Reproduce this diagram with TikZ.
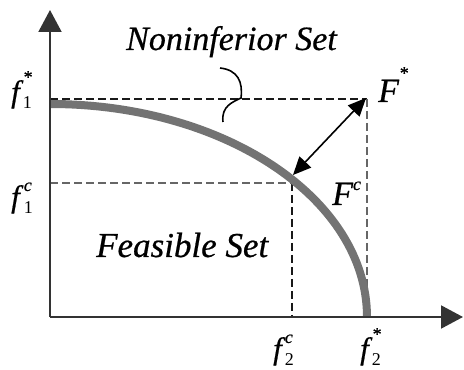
\documentclass[tikz,border=0pt]{standalone}
\usepackage{fontspec}
\setmainfont{Liberation Serif}[ItalicFeatures={FakeBold=0.6}]
\usetikzlibrary{arrows.meta}
\newcommand{\bigfont}{\fontsize{34}{36}\selectfont\itshape}
\newcommand{\ffont}{\fontsize{31}{32}\selectfont\itshape}
\newcommand{\smfont}{\fontsize{18}{18}\selectfont}
% #1 main, #2 kern, #3 subscript, #4 superscript, #5 raise of superscript
\newcommand{\lbl}[5]{#1\kern#2\makebox[0pt][l]{\raisebox{#5}{\smfont\itshape #4}}\raisebox{-7pt}{\smfont\upshape #3}}
\begin{document}
\begin{tikzpicture}[x=1pt,y=1pt,
  axis/.style={line width=2pt, draw=black!80, -{Triangle[width=23pt,length=22pt]}},
  dashblack/.style={dash pattern=on 8pt off 4pt, line width=2.3pt, draw=black!90},
  dashgray/.style={dash pattern=on 8pt off 4pt, line width=2.3pt, draw=black!60},
  frontier/.style={line width=8pt, draw=black!55},
  dist/.style={line width=1.6pt, {Triangle[width=16pt,length=18pt]}-{Triangle[width=16pt,length=18pt]}},
  brace/.style={line width=1.6pt},
  lab/.style={inner sep=0pt, anchor=base west, font=\ffont},
  setlab/.style={inner sep=0pt, anchor=base west, font=\bigfont}]
\useasboundingbox (0,0) rectangle (464,370);
\coordinate (O) at (50,53);
\coordinate (Ytip) at (50,360);
\coordinate (Xtip) at (463,53);
\coordinate (Fs) at (367,271);
\coordinate (Fc) at (292,187);
\coordinate (A1s) at (50,271);
\coordinate (A1c) at (50,187);
\coordinate (A2c) at (292,53);
\coordinate (A2s) at (367,53);
\coordinate (Cstart) at (50,266);
\coordinate (Dlow) at (293,195);
\coordinate (Dhigh) at (366,272);
% dashed guides
\draw[dashblack] (A1s) -- (Fs);
\draw[dashgray] (Fs) -- (A2s);
\draw[dashgray] (A1c) -- (Fc);
\draw[dashblack] (Fc) -- (A2c);
% frontier
\draw[frontier] (Cstart) arc[start angle=90, end angle=0, x radius=317, y radius=213];
% axes
\draw[axis] (O) -- (Ytip);
\draw[axis] (O) -- (Xtip);
% distance arrow
\draw[dist] (Dlow) -- (Dhigh);
% brace
\draw[brace] (220,302) .. controls (238,300) and (243,288) .. (241,272) .. controls (233,268) and (221,264) .. (223,248);
% labels
\node[setlab] (nis) at (126,320) {Noninferior Set};
\node[setlab, font=\fontsize{35}{36}\selectfont\itshape] (fs) at (96,113) {Feasible Set};
\node[lab] (f1s) at (11,268) {\lbl{f}{3pt}{1}{*}{19pt}};
\node[lab] (f1c) at (11,163) {\lbl{f}{4pt}{1}{c}{16pt}};
\node[lab] (f2c) at (273,11) {\lbl{f}{3pt}{2}{c}{16pt}};
\node[lab] (f2s) at (360,11) {\lbl{f}{3pt}{2}{*}{19pt}};
\node[lab, font=\bigfont] (Fstar) at (378,268) {\lbl{F}{0pt}{}{*}{23pt}};
\node[lab, font=\bigfont] (Fcl) at (332,165) {\lbl{F}{0pt}{}{c}{15pt}};
\end{tikzpicture}
\end{document}
